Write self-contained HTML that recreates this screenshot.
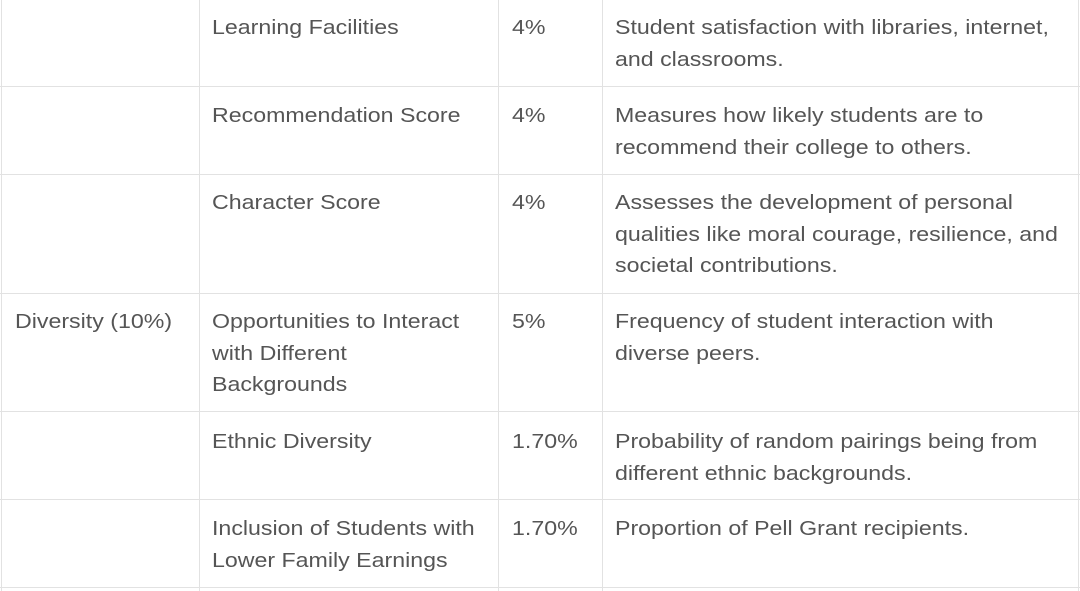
<!DOCTYPE html>
<html><head><meta charset="utf-8"><style>
html,body{margin:0;padding:0;background:#fff;width:1080px;height:591px;overflow:hidden}
body{position:relative;font-family:"Liberation Sans",sans-serif;font-size:20.5px;color:#555;}
.h{position:absolute;left:0;width:1080px;height:1px;background:#e2e2e2}
.v{position:absolute;top:0;height:591px;width:1px;background:#e2e2e2}
.t{position:absolute;line-height:31.5px;white-space:nowrap;transform:scaleX(1.13);transform-origin:0 0;margin-top:1px}
</style></head><body>
<div class="v" style="left:1px"></div>
<div class="v" style="left:199px"></div>
<div class="v" style="left:498px"></div>
<div class="v" style="left:602px"></div>
<div class="v" style="left:1078px"></div>
<div class="h" style="top:86px"></div>
<div class="h" style="top:174px"></div>
<div class="h" style="top:293px"></div>
<div class="h" style="top:411px"></div>
<div class="h" style="top:499px"></div>
<div class="h" style="top:587px"></div>

<div class="t" style="left:212px;top:11px">Learning Facilities</div>
<div class="t" style="left:512px;top:11px">4%</div>
<div class="t" style="left:615px;top:11px">Student satisfaction with libraries, internet,<br>and classrooms.</div>

<div class="t" style="left:212px;top:99px">Recommendation Score</div>
<div class="t" style="left:512px;top:99px">4%</div>
<div class="t" style="left:615px;top:99px">Measures how likely students are to<br>recommend their college to others.</div>

<div class="t" style="left:212px;top:186px">Character Score</div>
<div class="t" style="left:512px;top:186px">4%</div>
<div class="t" style="left:615px;top:186px">Assesses the development of personal<br>qualities like moral courage, resilience, and<br>societal contributions.</div>

<div class="t" style="left:15px;top:305px">Diversity (10%)</div>
<div class="t" style="left:212px;top:305px">Opportunities to Interact<br>with Different<br>Backgrounds</div>
<div class="t" style="left:512px;top:305px">5%</div>
<div class="t" style="left:615px;top:305px">Frequency of student interaction with<br>diverse peers.</div>

<div class="t" style="left:212px;top:425px">Ethnic Diversity</div>
<div class="t" style="left:512px;top:425px">1.70%</div>
<div class="t" style="left:615px;top:425px">Probability of random pairings being from<br>different ethnic backgrounds.</div>

<div class="t" style="left:212px;top:512px">Inclusion of Students with<br>Lower Family Earnings</div>
<div class="t" style="left:512px;top:512px">1.70%</div>
<div class="t" style="left:615px;top:512px">Proportion of Pell Grant recipients.</div>
</body></html>
